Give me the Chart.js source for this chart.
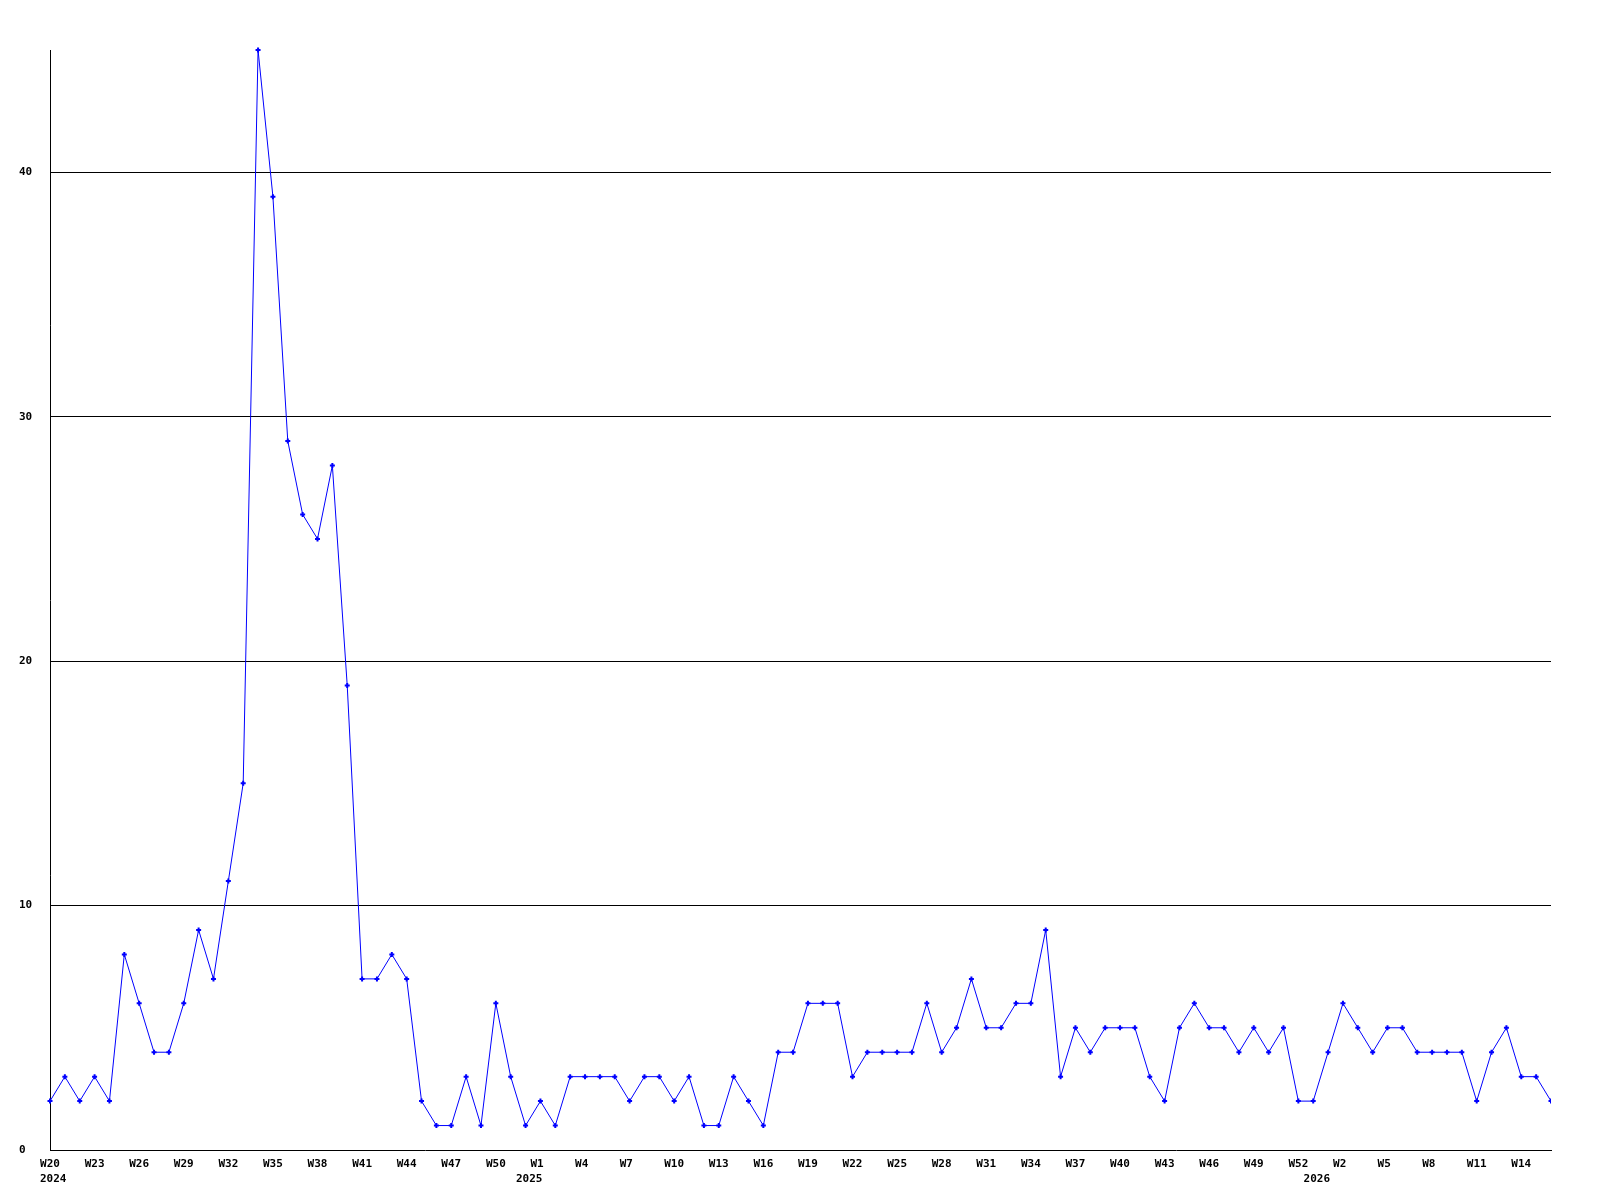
<!DOCTYPE html>
<html>
<head>
<meta charset="utf-8">
<script src="https://cdn.jsdelivr.net/npm/chart.js@4/dist/chart.umd.min.js"></script>
<style>
html,body{margin:0;padding:0;background:#fff;}
canvas{display:block;}
</style>
</head>
<body>
<canvas id="c" width="1600" height="1200"></canvas>
<script>
const years = ['2024', '2025', '2026'];
const weeks2024 = ['W20','W21','W22','W23','W24','W25','W26','W27','W28','W29','W30','W31','W32','W33','W34','W35','W36','W37','W38','W39','W40','W41','W42','W43','W44','W45','W46','W47','W48','W49','W50','W51','W52'];
const weeks2025 = ['W1','W2','W3','W4','W5','W6','W7','W8','W9','W10','W11','W12','W13','W14','W15','W16','W17','W18','W19','W20','W21','W22','W23','W24','W25','W26','W27','W28','W29','W30','W31','W32','W33','W34','W35','W36','W37','W38','W39','W40','W41','W42','W43','W44','W45','W46','W47','W48','W49','W50','W51','W52','W53'];
const weeks2026 = ['W1','W2','W3','W4','W5','W6','W7','W8','W9','W10','W11','W12','W13','W14','W15','W16'];

const values2024 = [2,3,2,3,2,8,6,4,4,6,9,7,11,15,45,39,29,26,25,28,19,7,7,8,7,2,1,1,3,1,6,3,1];
const values2025 = [2,1,3,3,3,3,2,3,3,2,3,1,1,3,2,1,4,4,6,6,6,3,4,4,4,4,6,4,5,7,5,5,6,6,9,3,5,4,5,5,5,3,2,5,6,5,5,4,5,4,5,2,2];
const values2026 = [4,6,5,4,5,5,4,4,4,4,2,4,5,3,3,2];

const yTicks = [0, 10, 20, 30, 40];
const yMax = 45;

const labels = [].concat(weeks2024, weeks2025, weeks2026);
const values = [].concat(values2024, values2025, values2026);
const yearStarts = [0, weeks2024.length, weeks2024.length + weeks2025.length];

const FONT = {family: "'DejaVu Sans Mono', monospace", size: 11, weight: 'bold'};

const yearPlugin = {
  id: 'yearLabels',
  afterDraw(chart) {
    const ctx = chart.ctx;
    const xs = chart.scales.x;
    ctx.save();
    ctx.font = "bold 11px 'DejaVu Sans Mono', monospace";
    ctx.fillStyle = '#000';
    ctx.textBaseline = 'middle';
    years.forEach((y, k) => {
      const px = xs.getPixelForValue(yearStarts[k]);
      if (k === 0) { ctx.textAlign = 'left'; ctx.fillText(y, px - 10, 1179); }
      else { ctx.textAlign = 'right'; ctx.fillText(y, px + 2, 1179); }
    });
    ctx.restore();
  }
};

new Chart(document.getElementById('c'), {
  type: 'line',
  data: {
    labels: labels,
    datasets: [{
      data: values,
      borderColor: '#0000ff',
      backgroundColor: '#0000ff',
      borderWidth: 1,
      pointStyle: 'cross',
      pointRadius: 2.5,
      pointBorderWidth: 2,
      pointBorderColor: '#0000ff',
      tension: 0,
      fill: false,
      clip: {left: 5, top: 5, right: 0, bottom: 5}
    }]
  },
  options: {
    responsive: false,
    animation: false,
    devicePixelRatio: 1,
    layout: {padding: {left: 19, right: 49, top: 50, bottom: 0}},
    plugins: {legend: {display: false}, tooltip: {enabled: false}},
    scales: {
      x: {
        type: 'category',
        offset: false,
        grid: {display: false, drawTicks: false},
        border: {display: true, color: '#000', width: 1},
        ticks: {
          autoSkip: false,
          maxRotation: 0,
          minRotation: 0,
          padding: 8,
          color: '#000',
          font: FONT,
          callback: function(v, i) { return i % 3 === 0 ? labels[i].padEnd(3, ' ') : ''; }
        },
        afterFit: function(s) { s.height = 50; }
      },
      y: {
        min: 0,
        max: yMax,
        grid: {
          drawTicks: false,
          color: function(c) { return c.tick && c.tick.value === 0 ? 'rgba(0,0,0,0)' : '#000'; },
          lineWidth: 1
        },
        border: {display: true, color: '#000', width: 1},
        afterBuildTicks: function(s) { s.ticks = yTicks.map(v => ({value: v})); },
        ticks: {
          crossAlign: 'far',
          padding: 0,
          color: '#000',
          font: FONT
        },
        afterFit: function(s) { s.width = 31; }
      }
    }
  },
  plugins: [yearPlugin]
});
</script>
</body>
</html>
